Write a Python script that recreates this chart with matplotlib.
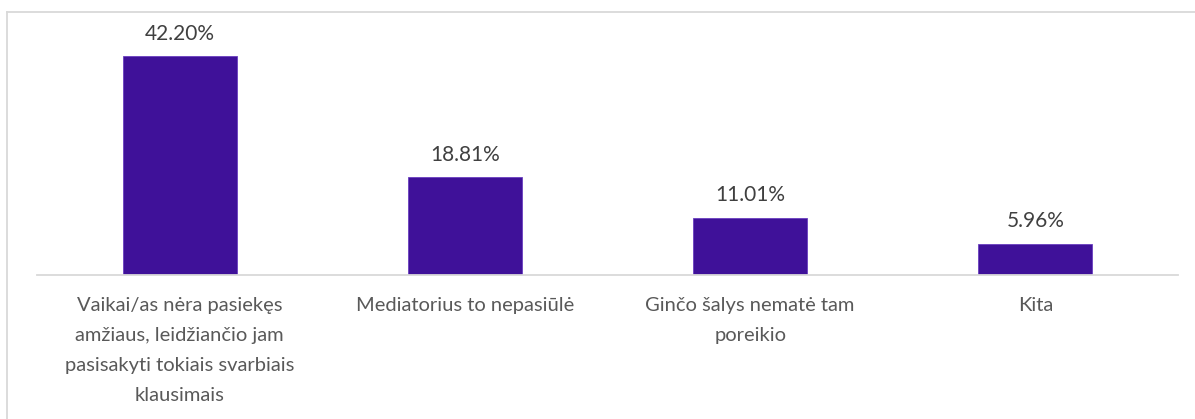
import matplotlib

matplotlib.use("Agg")
import matplotlib.pyplot as plt
from matplotlib.lines import Line2D

categories = [
    "Vaikai/as nėra pasiekęs\namžiaus, leidžiančio jam\npasisakyti tokiais svarbiais\nklausimais",
    "Mediatorius to nepasiūlė",
    "Ginčo šalys nematė tam\nporeikio",
    "Kita",
]
values = [42.20, 18.81, 11.01, 5.96]
value_labels = ["42.20%", "18.81%", "11.01%", "5.96%"]

W, H = 1195, 419
fig = plt.figure(figsize=(W / 100, H / 100), dpi=100)
fig.patch.set_facecolor("white")

# outer chart border (only top and left edges fall inside the image)
fig.add_artist(Line2D([7 / W, 1.0], [1 - 12.5 / H, 1 - 12.5 / H], color="#D9D9D9", lw=1.3, transform=fig.transFigure))
fig.add_artist(Line2D([7 / W, 7 / W], [0, 1 - 12.5 / H], color="#D9D9D9", lw=1.3, transform=fig.transFigure))

ax = fig.add_axes([37 / W, (H - 274.5) / H, (1178 - 37) / W, (274.5 - 16) / H])
x = list(range(len(categories)))
ax.bar(x, values, width=0.4, color="#3F1199", edgecolor="#6A3FC0", linewidth=0.6, zorder=2)
ax.set_xlim(-0.5, len(categories) - 0.5)
ax.set_ylim(0, 50)

for xi, v, lab in zip(x, values, value_labels):
    ax.annotate(lab, (xi, v), xytext=(0, 9), textcoords="offset points", ha="center", va="bottom",
                fontsize=15, color="#404040", family="Lato")

ax.set_yticks([])
ax.set_xticks(x)
ax.set_xticklabels(categories, fontsize=14.5, color="#595959", family="Lato", linespacing=1.92, va="top")
ax.tick_params(axis="x", length=0, pad=16.5)
for side in ("top", "right", "left"):
    ax.spines[side].set_visible(False)
ax.spines["bottom"].set_color("#D9D9D9")
ax.spines["bottom"].set_linewidth(1.3)

fig.savefig("out.png", dpi=100, facecolor="white")
